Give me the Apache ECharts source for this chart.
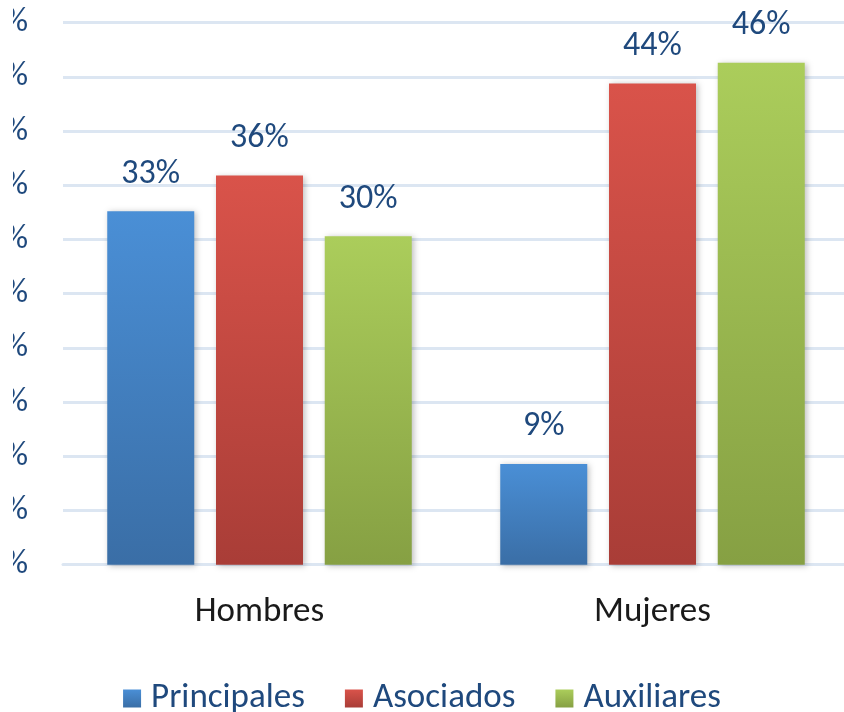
<!DOCTYPE html>
<html>
<head>
<meta charset="utf-8">
<script src="https://cdn.jsdelivr.net/npm/echarts@6/dist/echarts.min.js"></script>
<style>html,body{margin:0;padding:0;background:#fff;}#c{width:844px;height:712px;}</style>
</head>
<body>
<div id="c"></div>
<script>
var categories = ['Hombres', 'Mujeres'];
var seriesNames = ['Principales', 'Asociados', 'Auxiliares'];
var principales = [32.6, 9.3];
var asociados = [35.9, 44.4];
var auxiliares = [30.3, 46.3];
var yTicks = [0, 5, 10, 15, 20, 25, 30, 35, 40, 45, 50];

var FONT = 'Carlito, Lato, "Open Sans", sans-serif';
var TXT = '#1f497d';

function grad(top, bottom) {
  return new echarts.graphic.LinearGradient(0, 0, 0, 1, [
    {offset: 0, color: top}, {offset: 1, color: bottom}
  ]);
}
var colors = [grad('#4a8fd6', '#3a6ea6'), grad('#d9534a', '#a93d37'), grad('#abcd5b', '#86a043')];
var legendColors = [grad('#4a8fd6', '#3a6ea6'), grad('#d9534a', '#a93d37'), grad('#abcd5b', '#86a043')];

function mk(name, data, i) {
  return {
    name: name,
    type: 'bar',
    data: data,
    barWidth: 87,
    barGap: '25%',
    itemStyle: {
      color: colors[i],
      shadowColor: 'rgba(0,0,0,0.25)',
      shadowBlur: 6,
      shadowOffsetX: 2,
      shadowOffsetY: 1
    },
    label: {
      show: true,
      position: 'top',
      distance: 20,
      color: TXT,
      fontFamily: FONT,
      fontSize: 34,
      formatter: function (p) { return Math.round(p.value) + '%'; }
    }
  };
}

var chart = echarts.init(document.getElementById('c'), null, {renderer: 'canvas'});
chart.setOption({
  animation: false,
  backgroundColor: '#fff',
  color: legendColors,
  grid: {left: 63, right: -5, top: 22.7, bottom: 147.3, containLabel: false, outerBoundsMode: 'none'},
  legend: {
    top: 676,
    left: 'center',
    itemWidth: 18,
    itemHeight: 18,
    itemGap: 40,
    icon: 'rect',
    textStyle: {color: TXT, fontFamily: FONT, fontSize: 35, padding: [0, 0, 0, 5]},
    data: seriesNames
  },
  xAxis: {
    type: 'category',
    data: categories,
    axisLine: {show: true, lineStyle: {color: '#dce6f2', width: 3}},
    axisTick: {show: false},
    axisLabel: {color: '#1a1a1a', fontFamily: FONT, fontSize: 35, margin: 30}
  },
  yAxis: {
    type: 'value',
    min: 0,
    max: 50,
    interval: 5,
    axisLine: {show: false},
    axisTick: {show: false},
    splitLine: {lineStyle: {color: '#dce6f2', width: 3}},
    axisLabel: {
      color: TXT, fontFamily: FONT, fontSize: 34, margin: 35,
      padding: [10, 0, 0, 0],
      formatter: function (v) { return yTicks.indexOf(v) >= 0 ? v + '%' : ''; }
    }
  },
  graphic: [{
    type: 'rect', left: 0, top: 0, z: 100,
    shape: {width: 13, height: 600},
    style: {fill: '#fff'}
  }],
  series: [
    mk(seriesNames[0], principales, 0),
    mk(seriesNames[1], asociados, 1),
    mk(seriesNames[2], auxiliares, 2)
  ]
});
</script>
</body>
</html>
